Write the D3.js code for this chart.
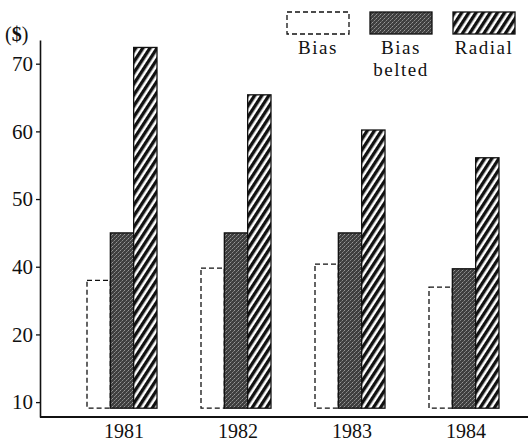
<!DOCTYPE html>
<html>
<head>
<meta charset="utf-8">
<script src="https://cdn.jsdelivr.net/npm/d3@7/dist/d3.min.js"></script>
<style>
  html, body { margin: 0; padding: 0; background: #fff; }
  svg { display: block; }
  text { font-family: "Liberation Serif", "DejaVu Serif", serif; fill: #111; }
</style>
</head>
<body>
<svg id="chart" width="531" height="444"></svg>
<script>
// ---- data ----
const years = ["1981", "1982", "1983", "1984"];
const seriesNames = ["Bias", "Bias belted", "Radial"];
const bias = [38, 39.8, 40.4, 37];
const biasBelted = [45, 45, 45, 39.7];
const radial = [72.4, 65.4, 60.2, 56.1];
const yTickValues = [20, 30, 40, 50, 60, 70];
const yTickLabels = ["10", "20", "40", "50", "60", "70"];
const unitLabel = "($)";

// ---- layout ----
const svg = d3.select("#chart");
const axisX = 40, axisBottom = 417, axisTop = 40;
const barBase = 19.1;

const y = d3.scaleLinear().domain([17.8, 73.5]).range([axisBottom, axisTop]);
const xGroup = d3.scalePoint().domain(years).range([122, 464]);
const xBar = d3.scaleBand().domain(seriesNames).range([-35, 35]).padding(0);

// ---- patterns ----
const defs = svg.append("defs");
const hatch = defs.append("pattern")
  .attr("id", "hatch").attr("patternUnits", "userSpaceOnUse")
  .attr("width", 6).attr("height", 6)
  .attr("patternTransform", "rotate(33)");
hatch.append("rect").attr("width", 6).attr("height", 6).attr("fill", "#fff");
hatch.append("rect").attr("width", 3.4).attr("height", 6).attr("fill", "#111");

const stip = defs.append("pattern")
  .attr("id", "stipple").attr("patternUnits", "userSpaceOnUse")
  .attr("width", 4).attr("height", 4);
stip.append("rect").attr("width", 4).attr("height", 4).attr("fill", "#3f3f3f");
stip.append("rect").attr("x", 0).attr("y", 0).attr("width", 1).attr("height", 1).attr("fill", "#8a8a8a");
stip.append("rect").attr("x", 2).attr("y", 2).attr("width", 1).attr("height", 1).attr("fill", "#9a9a9a");
stip.append("rect").attr("x", 3).attr("y", 1).attr("width", 1).attr("height", 1).attr("fill", "#666");
stip.append("rect").attr("x", 1).attr("y", 3).attr("width", 1).attr("height", 1).attr("fill", "#777");

const styles = {
  "Bias": { fill: "#fff", dash: "5,3" },
  "Bias belted": { fill: "url(#stipple)", dash: null },
  "Radial": { fill: "url(#hatch)", dash: null }
};

// ---- data rows ----
const rows = years.map((yr, i) => ({
  year: yr,
  vals: [
    { s: "Bias", v: bias[i] },
    { s: "Bias belted", v: biasBelted[i] },
    { s: "Radial", v: radial[i] }
  ]
}));

// ---- bars ----
const groups = svg.append("g").selectAll("g").data(rows).join("g")
  .attr("transform", d => `translate(${xGroup(d.year)},0)`);

groups.selectAll("rect").data(d => d.vals).join("rect")
  .attr("x", d => xBar(d.s))
  .attr("width", xBar.bandwidth())
  .attr("y", d => y(d.v))
  .attr("height", d => y(barBase) - y(d.v))
  .attr("fill", d => styles[d.s].fill)
  .attr("stroke", "#111")
  .attr("stroke-width", 1.3)
  .attr("stroke-dasharray", d => styles[d.s].dash);

// ---- y axis ----
const yAxis = d3.axisLeft(y)
  .tickValues(yTickValues)
  .tickFormat((d, i) => yTickLabels[i])
  .tickSizeInner(4).tickSizeOuter(0).tickPadding(3);
const ga = svg.append("g").attr("transform", `translate(${axisX},0)`).call(yAxis);
ga.select(".domain").attr("stroke", "#111").attr("stroke-width", 1.6);
ga.selectAll(".tick line").attr("stroke", "#111").attr("stroke-width", 1.3);
ga.selectAll(".tick text").attr("font-size", 21).attr("font-family", "Liberation Serif, serif").attr("fill", "#111");

// baseline
svg.append("line").attr("x1", axisX).attr("x2", 528)
  .attr("y1", axisBottom).attr("y2", axisBottom)
  .attr("stroke", "#111").attr("stroke-width", 1.8);

// year labels
svg.append("g").selectAll("text").data(years).join("text")
  .attr("x", d => xGroup(d) + 2)
  .attr("y", 438)
  .attr("text-anchor", "middle")
  .attr("font-size", 20)
  .text(d => d);

// unit label
const ul = svg.append("text").attr("x", 5).attr("y", 41).attr("font-size", 20);
ul.append("tspan").text("(");
ul.append("tspan").attr("font-weight", "bold").text("$");
ul.append("tspan").text(")");

// ---- legend ----
const legendX = [287, 370, 453];
const legendLines = [["Bias"], ["Bias", "belted"], ["Radial"]];
const lg = svg.append("g").selectAll("g").data(seriesNames).join("g")
  .attr("transform", (d, i) => `translate(${legendX[i]},12)`);
lg.append("rect").attr("width", 62).attr("height", 22)
  .attr("fill", d => styles[d].fill)
  .attr("stroke", "#111").attr("stroke-width", 1.3)
  .attr("stroke-dasharray", d => styles[d].dash);
lg.each(function(d, i) {
  const g = d3.select(this);
  legendLines[i].forEach((t, j) => {
    g.append("text").attr("x", 31).attr("y", 42 + j * 22)
      .attr("text-anchor", "middle").attr("font-size", 19)
      .attr("letter-spacing", 1.5).text(t);
  });
});
</script>
</body>
</html>
